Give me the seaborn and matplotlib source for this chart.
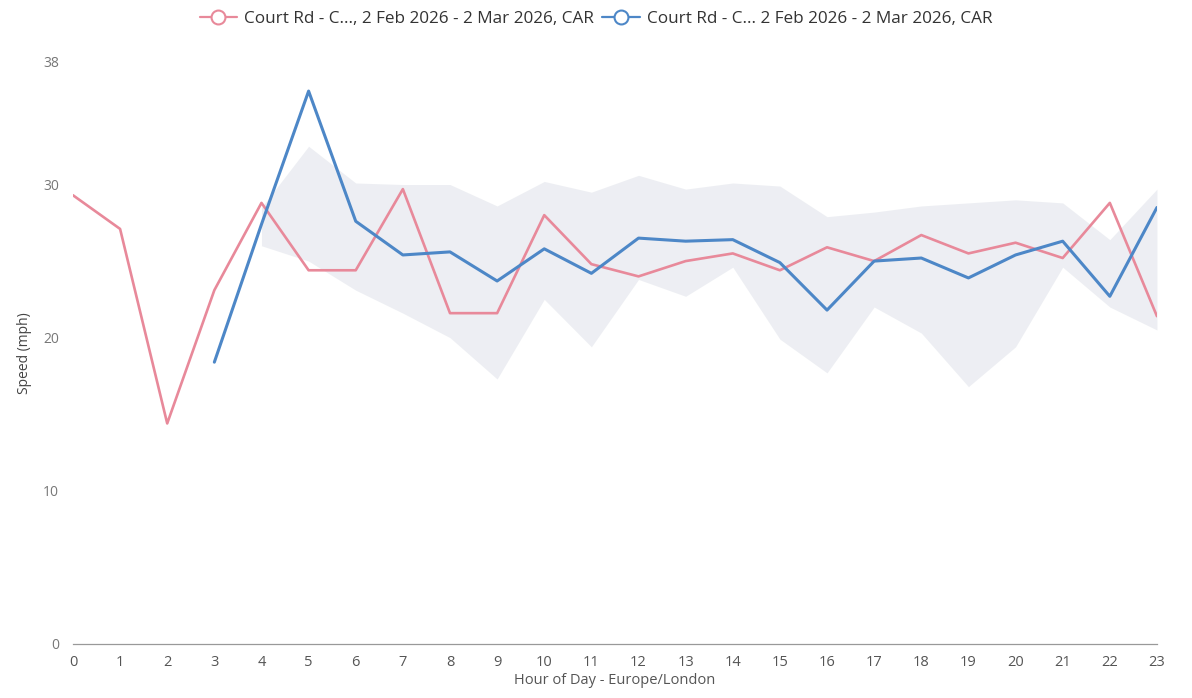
import numpy as np
import pandas as pd
import seaborn as sns
import matplotlib.pyplot as plt
from matplotlib.lines import Line2D

hours = list(range(24))
label = "Court Rd - C..., 2 Feb 2026 - 2 Mar 2026, CAR"
label_b = "Court Rd - C... 2 Feb 2026 - 2 Mar 2026, CAR"

red_speed = [29.3, 27.1, 14.4, 23.1, 28.8, 24.4, 24.4, 29.7, 21.6, 21.6, 28.0, 24.8,
             24.0, 25.0, 25.5, 24.4, 25.9, 25.0, 26.7, 25.5, 26.2, 25.2, 28.8, 21.4]
blue_speed = [np.nan, np.nan, np.nan, 18.4, 27.4, 36.1, 27.6, 25.4, 25.6, 23.7, 25.8, 24.2,
              26.5, 26.3, 26.4, 24.9, 21.8, 25.0, 25.2, 23.9, 25.4, 26.3, 22.7, 28.5]

# shaded range band (faint grey)
band_hours = list(range(4, 24))
band_low = [26.0, 25.0, 23.1, 21.6, 20.0, 17.3, 22.5, 19.4, 23.8, 22.7, 24.6, 19.9,
            17.7, 22.0, 20.3, 16.8, 19.4, 24.6, 22.0, 20.5]
band_high = [28.5, 32.5, 30.1, 30.0, 30.0, 28.6, 30.2, 29.5, 30.6, 29.7, 30.1, 29.9,
             27.9, 28.2, 28.6, 28.8, 29.0, 28.8, 26.4, 29.7]

red = "#e8899a"
blue = "#4d87c7"

df = pd.DataFrame({
    "hour": hours * 2,
    "speed": red_speed + blue_speed,
    "series": ["red"] * 24 + ["blue"] * 24,
})

sns.set_style("white")
plt.rcParams["font.family"] = ["Open Sans", "DejaVu Sans"]

fig = plt.figure(figsize=(11.92, 6.98), dpi=100)
ax = fig.add_axes([0.0612, 0.0774, 0.9094, 0.8338])

ax.fill_between(band_hours, band_low, band_high, color="#e6e8ee", alpha=0.7, lw=0)
sns.lineplot(data=df, x="hour", y="speed", hue="series",
             palette={"red": red, "blue": blue}, linewidth=1.9, ax=ax, legend=False)
ax.lines[1].set_linewidth(2.2)

ax.set_xlim(0, 23)
ax.set_ylim(0, 38)
ax.set_xticks(hours)
ax.set_yticks([0, 10, 20, 30, 38])
ax.tick_params(axis="x", colors="#555555", labelsize=10.5, length=4, width=0.8,
               color="#aaaaaa", pad=4)
ax.tick_params(axis="y", colors="#777777", labelsize=10, length=0, pad=10)
for s in ["top", "right", "left"]:
    ax.spines[s].set_visible(False)
ax.spines["bottom"].set_color("#999999")
ax.spines["bottom"].set_linewidth(0.9)

ax.set_xlabel("Hour of Day - Europe/London", color="#555555", fontsize=10.5, labelpad=2)
ax.set_ylabel("Speed (mph)", color="#444444", fontsize=10, labelpad=8)

handles = [
    Line2D([], [], color=red, marker="o", markersize=10, markerfacecolor="white",
           markeredgewidth=1.5, lw=1.6),
    Line2D([], [], color=blue, marker="o", markersize=10, markerfacecolor="white",
           markeredgewidth=1.5, lw=1.6),
]
fig.legend(handles, [label, label_b], loc="upper center", bbox_to_anchor=(0.5, 1.006),
           ncol=2, frameon=False, fontsize=12.3, handlelength=2.2, handletextpad=0.4,
           columnspacing=0.5, labelcolor="#333333")

fig.savefig("out.png", dpi=100)
